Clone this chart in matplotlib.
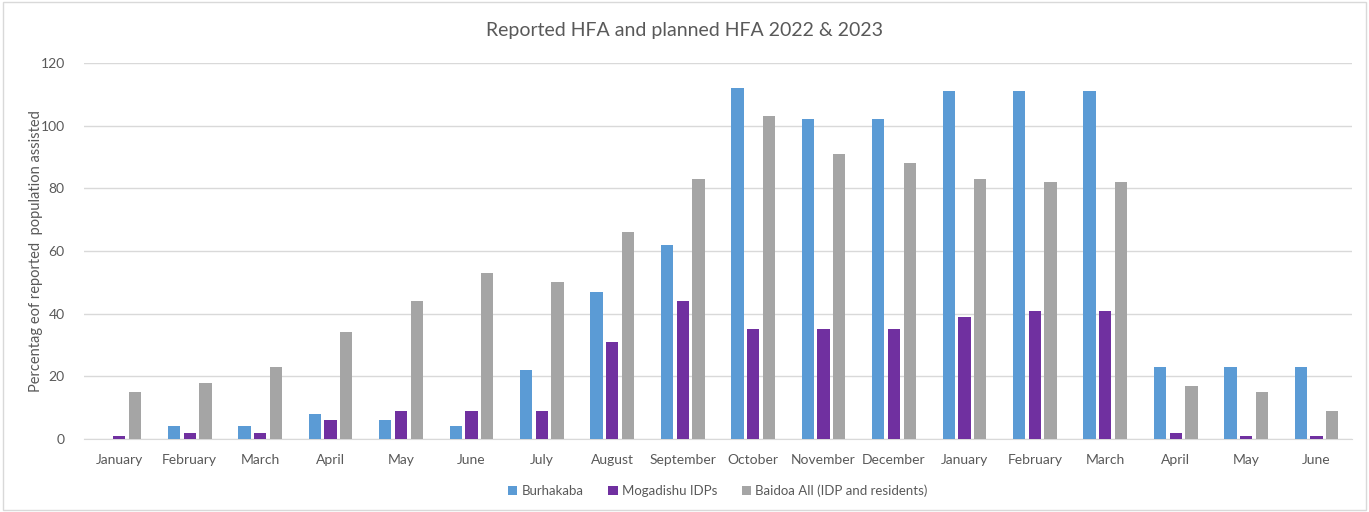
import numpy as np
import matplotlib.pyplot as plt
from matplotlib.patches import Rectangle

plt.rcParams['font.family'] = ['Lato', 'DejaVu Sans']

months = ['January', 'February', 'March', 'April', 'May', 'June', 'July', 'August',
          'September', 'October', 'November', 'December', 'January', 'February',
          'March', 'April', 'May', 'June']
burhakaba = [0, 4, 4, 8, 6, 4, 22, 47, 62, 112, 102, 102, 111, 111, 111, 23, 23, 23]
mogadishu = [1, 2, 2, 6, 9, 9, 9, 31, 44, 35, 35, 35, 39, 41, 41, 2, 1, 1]
baidoa = [15, 18, 23, 34, 44, 53, 50, 66, 83, 103, 91, 88, 83, 82, 82, 17, 15, 9]
series_names = ['Burhakaba', 'Mogadishu IDPs', 'Baidoa All (IDP and residents)']
colors = ['#5B9BD5', '#7030A0', '#A5A5A5']

text_col = '#595959'
grid_col = '#D9D9D9'

fig = plt.figure(figsize=(13.69, 5.12), dpi=100)
ax = fig.add_axes([0.0614, 0.1426, 0.926, 0.7344])

x = np.arange(len(months))
step = 0.223
width = 0.175
for i, (vals, name) in enumerate(zip([burhakaba, mogadishu, baidoa], series_names)):
    ax.bar(x + (i - 1) * step, vals, width, color=colors[i], label=name, zorder=3)

ax.set_xlim(-0.5, len(months) - 0.5)
ax.set_ylim(0, 120)
ax.set_yticks(range(0, 121, 20))
ax.set_xticks(x)
ax.set_xticklabels(months)
ax.tick_params(axis='both', length=0, colors=text_col, labelsize=10)
ax.tick_params(axis='x', pad=11)
ax.tick_params(axis='y', pad=14)
ax.grid(axis='y', color=grid_col, linewidth=1, zorder=0)
for s in ['top', 'right', 'left']:
    ax.spines[s].set_visible(False)
ax.spines['bottom'].set_color(grid_col)

ax.set_ylabel('Percentag eof reported  population assisted', color=text_col, fontsize=10.5, labelpad=-2)
fig.text(0.5, 0.94, 'Reported HFA and planned HFA 2022 & 2023', ha='center', va='center',
         color=text_col, fontsize=14)

leg = ax.legend(loc='center', bbox_to_anchor=(0.5, -0.137), ncol=3, frameon=False,
                fontsize=9.5, handlelength=0.7, handleheight=0.7, handletextpad=0.3,
                columnspacing=1.9, labelcolor=text_col)

fig.patches.append(Rectangle((0.002, 0.003), 0.996, 0.994, transform=fig.transFigure,
                             fill=False, edgecolor=grid_col, linewidth=1))

fig.savefig('out.png', dpi=100)
